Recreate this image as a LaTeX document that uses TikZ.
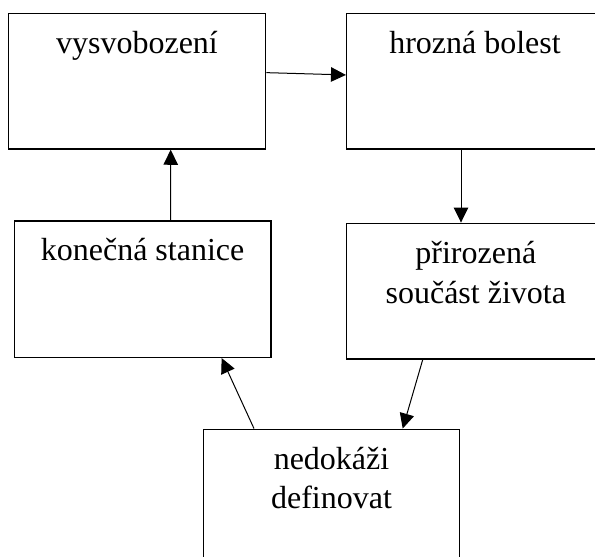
\documentclass[tikz,border=0pt]{standalone}
\usepackage{fontspec}
\setmainfont{Liberation Serif}
\usetikzlibrary{arrows.meta}
\begin{document}
\begin{tikzpicture}[x=1pt,y=-1pt,
  box/.style={draw=black,line width=1.5pt,rectangle,inner sep=0pt},
  lbl/.style={inner sep=0pt,anchor=base,font=\fontsize{32}{40}\selectfont},
  conn/.style={line width=1pt,-{Triangle[length=15pt,width=14.5pt]}}]
\useasboundingbox (0,0) rectangle (595,557);
\clip (0,0) rectangle (595,557);
\fill[white] (0,0) rectangle (595,557);
% boxes
\node[box,minimum width=257.4pt,minimum height=135.7pt] (b1) at (137,81.15) {};
\node[box,minimum width=256.3pt,minimum height=135.7pt] (b2) at (474.85,81.15) {};
\node[box,minimum width=256.7pt,minimum height=136.3pt] (b3) at (142.65,289.15) {};
\node[box,minimum width=258.3pt,minimum height=135.7pt] (b4) at (475.85,291.15) {};
\node[box,minimum width=256pt,minimum height=150pt] (b5) at (331.3,504.3) {};
% texts
\node[lbl] (t1) at (137,53.3) {vysvobození};
\node[lbl] (t2) at (475,53.3) {hrozná bolest};
\node[lbl] (t3) at (142.6,260) {konečná stanice};
\node[lbl] (t4a) at (475.8,263.3) {přirozená};
\node[lbl] (t4b) at (475.8,303.3) {součást života};
\node[lbl] (t5a) at (331.5,469.3) {nedokáži};
\node[lbl] (t5b) at (331.5,508.3) {definovat};
% connectors
\draw[conn] ([yshift=8.5pt]b1.east) -- ([yshift=6.2pt]b2.west);
\draw[conn] ([xshift=-13.85pt]b2.south) -- ([xshift=-14.85pt]b4.north);
\draw[conn] ([xshift=-53.15pt]b4.south) -- ([xshift=71.4pt]b5.north);
\draw[conn] ([xshift=-77.3pt]b5.north) -- ([xshift=79pt]b3.south);
\draw[conn] ([xshift=28pt]b3.north) -- ([xshift=33.7pt]b1.south);
\end{tikzpicture}
\end{document}
